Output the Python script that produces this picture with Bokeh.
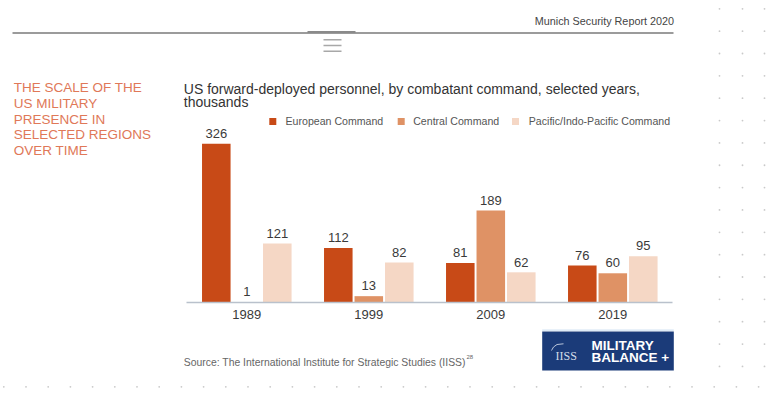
import numpy as np
from bokeh.plotting import figure
from bokeh.models import Range1d, Label, ColumnDataSource
from bokeh.core.properties import value
from bokeh.embed import file_html
from bokeh.resources import INLINE

# ---- data ----
years = ["1989", "1999", "2009", "2019"]
european = [326, 112, 81, 76]
central = [1, 13, 189, 60]
pacific = [121, 82, 62, 95]
series_names = ["European Command", "Central Command", "Pacific/Indo-Pacific Command"]
series_values = [european, central, pacific]
colors = ["#c84a17", "#df9265", "#f5d7c5"]

FONT = "Liberation Sans"
W, H = 778, 393
BASE_Y = 302.0      # pixel row of the zero line
PX_PER_UNIT = 0.487
G0, GSTEP = 246.3, 122.0
DY = -4.3           # text baseline correction

p = figure(width=W, height=H, title=None, output_backend="svg", toolbar_location=None,
           x_range=Range1d(-G0 / GSTEP, (W - G0) / GSTEP),
           y_range=Range1d(-(H - BASE_Y) / PX_PER_UNIT, BASE_Y / PX_PER_UNIT),
           x_axis_location=None, y_axis_location=None, min_border=0,
           outline_line_color=None, background_fill_color="white", border_fill_color="white")
p.grid.visible = False
p.extra_x_ranges = {"px": Range1d(0, W)}
p.extra_y_ranges = {"px": Range1d(H, 0)}

idx = np.arange(len(years))
offsets = [-0.25, 0.0, 0.25]
bar_w = 0.234

for vals, off, col in zip(series_values, offsets, colors):
    src = ColumnDataSource(dict(x=idx + off, top=vals, lab=[str(v) for v in vals]))
    p.vbar(x="x", top="top", bottom=0, width=bar_w, source=src, fill_color=col, line_color=None)
    p.text(x="x", y="top", text="lab", source=src, text_align="center", text_baseline="alphabetic",
           y_offset=-6 + DY, text_font=value(FONT), text_font_size="13px", text_color="#3a3a3a")

# baseline
p.segment(x0=[186], y0=[302], x1=[672], y1=[302], line_color="#b9c1cc", line_width=1.5,
          x_range_name="px", y_range_name="px")

# year labels
ysrc = ColumnDataSource(dict(x=idx, y=[0] * len(years), t=years))
p.text(x="x", y="y", text="t", source=ysrc, text_align="center", text_baseline="alphabetic",
       y_offset=17 - 5.5, text_font=value(FONT), text_font_size="13px", text_color="#3a3a3a")

def lab(x, y, text, size, color, align="left", font=FONT, style="normal"):
    p.add_layout(Label(x=x, y=y + DY, text=text, x_range_name="px", y_range_name="px",
                       text_font=font, text_font_size=size, text_color=color,
                       text_align=align, text_baseline="alphabetic", text_font_style=style))

# header
lab(673.5, 24.5, "Munich Security Report 2020", "10.8px", "#444444", align="right")
p.segment(x0=[12], y0=[32.5], x1=[673], y1=[32.5], line_color="#7a7a7a", line_width=1.3,
          x_range_name="px", y_range_name="px")
p.segment(x0=[307], y0=[31.5], x1=[355], y1=[31.5], line_color="#8a8a8a", line_width=2,
          x_range_name="px", y_range_name="px")
p.segment(x0=[323, 323, 323], y0=[39.3, 45, 50.7], x1=[341, 341, 341], y1=[39.3, 45, 50.7],
          line_color="#a8a8a8", line_width=1.6, x_range_name="px", y_range_name="px")

# left title
title_lines = ["THE SCALE OF THE", "US MILITARY", "PRESENCE IN", "SELECTED REGIONS", "OVER TIME"]
for i, t in enumerate(title_lines):
    lab(13.3, 91.5 + 15.65 * i, t, "13.5px", "#e07858")

# subtitle
lab(183.3, 92.5, "US forward-deployed personnel, by combatant command, selected years,", "14px", "#333333")
lab(183.3, 106.0, "thousands", "14px", "#333333")

# legend
sq_x = [272.3, 400.7, 515.0]
tx_x = [285.0, 412.7, 528.3]
p.scatter(x=sq_x, y=[121] * 3, marker="square", size=7, fill_color=colors, line_color=None,
          x_range_name="px", y_range_name="px")
for x, t in zip(tx_x, series_names):
    lab(x, 124.8, t, "10.6px", "#555555")

# source
lab(183.3, 366, "Source: The International Institute for Strategic Studies (IISS)", "10.4px", "#666666")
lab(466, 360.5, "28", "6px", "#666666")

# logo
p.segment(x0=[541.7], y0=[329.6], x1=[673.3], y1=[329.6], line_color="#d3e4f4", line_width=1.2,
          x_range_name="px", y_range_name="px")
p.quad(left=[541.7], right=[673.3], top=[331], bottom=[370], fill_color="#1b3b79", line_color=None,
       x_range_name="px", y_range_name="px")
p.line(x=[551, 553, 556.5, 563], y=[350, 346.5, 344, 343.3], line_color="#b8c4da", line_width=1,
       x_range_name="px", y_range_name="px")
lab(555, 359.5, "IISS", "12px", "#d4dbe8", font="Liberation Serif")
lab(591, 349.5, "MILITARY", "13.5px", "#ffffff", style="bold")
lab(591, 360.8, "BALANCE +", "13.5px", "#ffffff", style="bold")

# decorative dot grid
col_x = [719, 742, 764]
row_y = 8.3 + 22.35 * np.arange(17)
dx, dy = np.meshgrid(col_x, row_y)
p.scatter(x=dx.ravel(), y=dy.ravel(), size=1.8, fill_color="#c9c9c9", line_color=None,
          x_range_name="px", y_range_name="px")
bx = 3.3 + 22.2 * np.arange(0, 35)
p.scatter(x=bx, y=[386.3] * len(bx), size=1.8, fill_color="#c9c9c9", line_color=None,
          x_range_name="px", y_range_name="px")

open("out.html", "w").write(file_html(p, INLINE))
